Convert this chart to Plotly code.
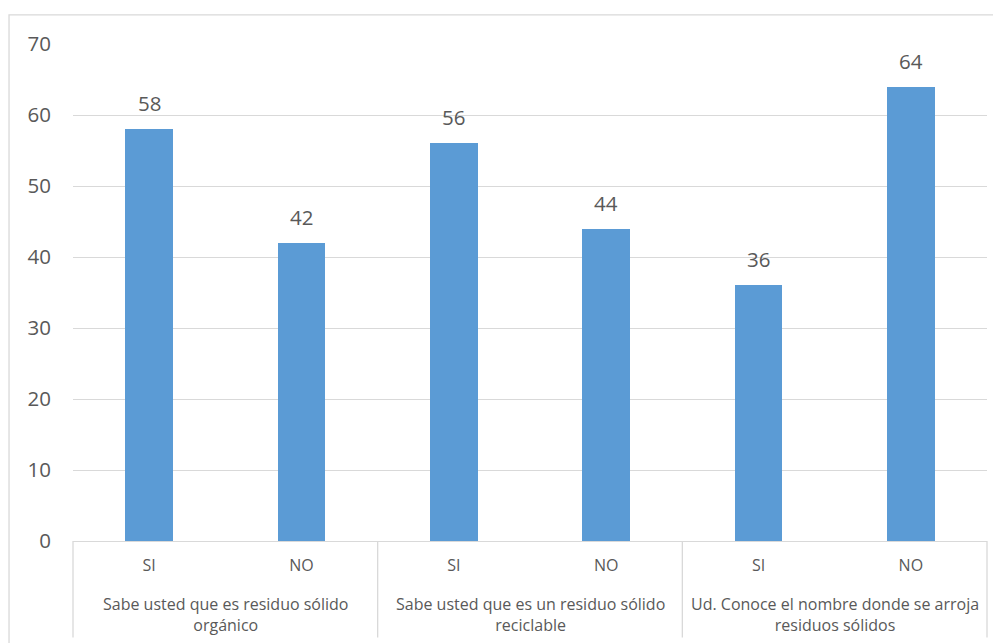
import plotly.graph_objects as go

groups = [
    "Sabe usted que es residuo sólido<br>orgánico",
    "Sabe usted que es un residuo sólido<br>reciclable",
    "Ud. Conoce el nombre donde se arroja<br>residuos sólidos",
]
answers = ["SI", "NO", "SI", "NO", "SI", "NO"]
values = [58, 42, 56, 44, 36, 64]
y_ticks = [0, 10, 20, 30, 40, 50, 60, 70]

TXT = "#595959"
GRID = "#D9D9D9"
FONT = "Open Sans"

xs = list(range(len(values)))

fig = go.Figure()
fig.add_trace(go.Bar(
    x=xs, y=values, width=0.313,
    marker=dict(color="#5B9BD5", line=dict(width=0)),
    hoverinfo="skip", showlegend=False,
))

annotations = []
for x, v in zip(xs, values):
    annotations.append(dict(
        x=x, y=v, xref="x", yref="y", text=str(v), showarrow=False,
        yanchor="bottom", yshift=10, font=dict(family=FONT, size=20.5, color=TXT),
    ))
n = len(values)
per = n // len(groups)
for gi, g in enumerate(groups):
    annotations.append(dict(
        x=gi * per + (per - 1) / 2, y=-0.100, xref="x", yref="paper", text=g,
        showarrow=False, yanchor="top", align="center",
        font=dict(family=FONT, size=16, color=TXT),
    ))

shapes = []
for gi in range(len(groups) + 1):
    px = gi / len(groups)
    shapes.append(dict(type="line", xref="paper", yref="paper", x0=px, x1=px,
                       y0=0, y1=-0.194, line=dict(color=GRID, width=1.3)))
shapes.append(dict(type="rect", xref="paper", yref="paper", x0=-0.070, x1=1.2,
                   y0=-0.4, y1=1.0588, line=dict(color=GRID, width=1.3),
                   fillcolor="rgba(0,0,0,0)"))

fig.update_layout(
    width=993, height=635,
    margin=dict(l=65, r=14, t=36, b=102),
    paper_bgcolor="white", plot_bgcolor="white",
    bargap=0,
    annotations=annotations, shapes=shapes,
    xaxis=dict(
        range=[-0.5, n - 0.5], tickmode="array", tickvals=xs, ticktext=answers,
        showgrid=False, zeroline=False, showline=True, linecolor=GRID, linewidth=1.3,
        ticks="outside", ticklen=0, ticklabelstandoff=10,
        tickfont=dict(family=FONT, size=16, color=TXT), fixedrange=True,
    ),
    yaxis=dict(
        range=[0, 70], tickmode="array", tickvals=y_ticks,
        showgrid=True, gridcolor=GRID, gridwidth=1.3, zeroline=False,
        ticks="", ticklabelstandoff=21,
        tickfont=dict(family=FONT, size=20.5, color=TXT), fixedrange=True,
    ),
)

fig.write_html("out.html")
